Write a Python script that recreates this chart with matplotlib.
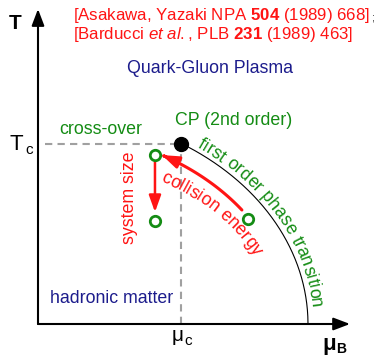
import numpy as np
import matplotlib
matplotlib.use("Agg")
import matplotlib.pyplot as plt
from matplotlib.patches import FancyArrowPatch
from matplotlib.path import Path
from matplotlib.font_manager import FontProperties, findfont
from matplotlib.ft2font import FT2Font

plt.rcParams['font.family'] = ['Liberation Sans', 'DejaVu Sans']
plt.rcParams['mathtext.fontset'] = 'custom'
plt.rcParams['mathtext.rm'] = 'Liberation Sans'
plt.rcParams['mathtext.it'] = 'Liberation Sans:italic'
plt.rcParams['mathtext.bf'] = 'Liberation Sans:bold'

# ---------------- data (mu_B / mu_c , T / T_c) ----------------
mu_c = 1.0
T_c = 1.0
cp_mu, cp_T = 1.0, 1.0                    # critical point
boundary_mu0 = 1.888                      # first-order line reaches T=0 here
boundary_T0 = 1.180                       # vertical semi-axis of first-order line
systems_mu = [0.818, 0.818, 1.469]        # open green circles
systems_T = [0.936, 0.571, 0.582]
size_arrow_mu = [0.818, 0.818]            # "system size" arrow (start, end)
size_arrow_T = [0.898, 0.620]
energy_arrow_mu = [1.427, 0.867]          # "collision energy" arrow (start, end)
energy_arrow_T = [0.632, 0.936]
energy_arc_mu0, energy_arc_T0 = 1.762, 1.075
axis_mu_max = 2.182
axis_T_max = 1.745

ref_line1 = r'[Asakawa, Yazaki NPA $\mathbf{504}$ (1989) 668]'
ref_line2 = r'[Barducci $\mathit{et\ al.}$, PLB $\mathbf{231}$ (1989) 463]'

RED = '#ff1414'
GREEN = '#148c14'
NAVY = '#1c1c8c'
GRAY = '#a0a0a0'

W, H = 374, 356
X0, Y0, SX, SY = 38.0, 324.0, 143.0, 180.5   # pixel of origin and scale


def P(px, py):
    """pixel position (from top-left) -> data coordinates (for text placement)"""
    return (px - X0) / SX, (Y0 - py) / SY


fig = plt.figure(figsize=(W / 100, H / 100), dpi=100)
ax = fig.add_axes([0, 0, 1, 1])
ax.set_xlim(-X0 / SX, (W - X0) / SX)
ax.set_ylim(-(H - Y0) / SY, Y0 / SY)
ax.axis('off')

# axes arrows
for tip in [(axis_mu_max, 0), (0, axis_T_max)]:
    ax.add_patch(FancyArrowPatch((0, 0), tip, arrowstyle='-|>,head_length=0.5,head_width=0.19',
                                 mutation_scale=20, lw=1.5, color='black',
                                 shrinkA=0, shrinkB=0, zorder=3))

# dashed guides
ax.plot([0.05, cp_mu - 0.04], [T_c, T_c], ls=(0, (3.5, 2.5)), lw=1.5, color=GRAY, zorder=1)
ax.plot([mu_c, mu_c], [0, cp_T - 0.04], ls=(0, (3.5, 2.5)), lw=1.5, color=GRAY, zorder=1)

# first-order boundary (quarter ellipse from CP to T=0)
th_cp = np.arctan2(cp_T / boundary_T0, cp_mu / boundary_mu0)
th = np.linspace(th_cp, 0, 200)
ax.plot(boundary_mu0 * np.cos(th), boundary_T0 * np.sin(th), color='black', lw=0.8, zorder=2)

# critical point
ax.plot([cp_mu], [cp_T], 'o', color='black', ms=10, zorder=5)

# systems
ax.plot(systems_mu, systems_T, 'o', mfc='white', mec=GREEN, mew=2.0, ms=7.5, zorder=5)

# system-size arrow
ax.add_patch(FancyArrowPatch((size_arrow_mu[0], size_arrow_T[0]), (size_arrow_mu[1], size_arrow_T[1]),
                             arrowstyle='-|>,head_length=0.5,head_width=0.18', mutation_scale=20,
                             lw=1.8, color=RED, shrinkA=0, shrinkB=0, zorder=4))

# collision-energy arrow (elliptical arc)
t1 = np.arctan2(energy_arrow_T[0] / energy_arc_T0, energy_arrow_mu[0] / energy_arc_mu0)
t2 = np.arctan2(energy_arrow_T[1] / energy_arc_T0, energy_arrow_mu[1] / energy_arc_mu0)
tt = np.linspace(t1, t2, 60)
verts = np.column_stack([energy_arc_mu0 * np.cos(tt), energy_arc_T0 * np.sin(tt)])
codes = [Path.MOVETO] + [Path.LINETO] * (len(verts) - 1)
ax.add_patch(FancyArrowPatch(path=Path(verts, codes),
                             arrowstyle='-|>,head_length=0.5,head_width=0.18', mutation_scale=20,
                             lw=2.2, color=RED, zorder=4))

# ---------------- texts ----------------
FS = 12.8
RFS = 12.2
ax.text(*P(15, 29), 'T', fontsize=15, fontweight='bold', ha='center', va='baseline')
ax.text(*P(322, 350), 'μ', fontsize=16, fontweight='bold', ha='left', va='baseline')
ax.text(*P(336, 353), 'B', fontsize=10, fontweight='bold', ha='left', va='baseline')
ax.text(*P(10, 150), 'T', fontsize=16, ha='left', va='baseline')
ax.text(*P(25.5, 154), 'c', fontsize=11, ha='left', va='baseline')
ax.text(*P(172, 341), 'μ', fontsize=15, ha='left', va='baseline')
ax.text(*P(184, 345), 'c', fontsize=11, ha='left', va='baseline')

ax.text(*P(73, 39), ref_line1 + '\n' + ref_line2, fontsize=RFS, color=RED,
        ha='left', va='baseline', linespacing=0.98)

fig.canvas.draw()
renderer = fig.canvas.get_renderer()
w1 = renderer.get_text_width_height_descent(ref_line1, FontProperties(family='Liberation Sans', size=RFS),
                                            ismath=True)[0]
xr = P(73 + w1 + 0.5, 0)[0]
ax.text(xr, P(0, 20.5)[1], ';', fontsize=8, color='#333333', ha='left', va='baseline')

ax.text(*P(210, 73), 'Quark-Gluon Plasma', fontsize=FS, color=NAVY, ha='center', va='baseline')
ax.text(*P(175, 125), 'CP (2nd order)', fontsize=FS, color=GREEN, ha='left', va='baseline')
ax.text(*P(59, 134), 'cross-over', fontsize=FS, color=GREEN, ha='left', va='baseline')
ax.text(*P(50, 303), 'hadronic matter', fontsize=FS, color=NAVY, ha='left', va='baseline')
ax.text(*P(130, 198), 'system size', fontsize=FS, color=RED, rotation=90, ha='center', va='center')


def curved_text(s, A, B, px_start, color, size):
    """place text along an ellipse (pixel semi-axes A, B, centred on the origin)"""
    fp = FontProperties(family='Liberation Sans', size=size)
    font = FT2Font(findfont(fp))
    font.set_size(size, 100)
    adv = [font.load_char(ord(c)).linearHoriAdvance / 65536 for c in s]
    edges = np.concatenate([[0], np.cumsum(adv)])
    O = ax.transData.transform((0, 0))
    th0 = np.arccos((px_start - X0) / A)
    ths = np.linspace(th0, -0.6, 3000)
    pts = np.column_stack([O[0] + A * np.cos(ths), O[1] + B * np.sin(ths)])
    L = np.concatenate([[0], np.cumsum(np.hypot(*np.diff(pts, axis=0).T))])
    inv = ax.transData.inverted()
    for i, ch in enumerate(s):
        if ch == ' ':
            continue
        sm = 0.5 * (edges[i] + edges[i + 1])
        t = np.interp(sm, L, ths)
        p = (O[0] + A * np.cos(t), O[1] + B * np.sin(t))
        ang = np.degrees(np.arctan2(-B * np.cos(t), A * np.sin(t)))
        x, y = inv.transform(p)
        ax.text(x, y, ch, fontsize=size, color=color, rotation=ang, rotation_mode='anchor',
                ha='center', va='baseline', family='Liberation Sans')


curved_text('first order phase transition', 274, 217, 197, GREEN, FS)
curved_text('collision energy', 236, 167, 160, RED, FS)

fig.savefig('out.png', dpi=100)
